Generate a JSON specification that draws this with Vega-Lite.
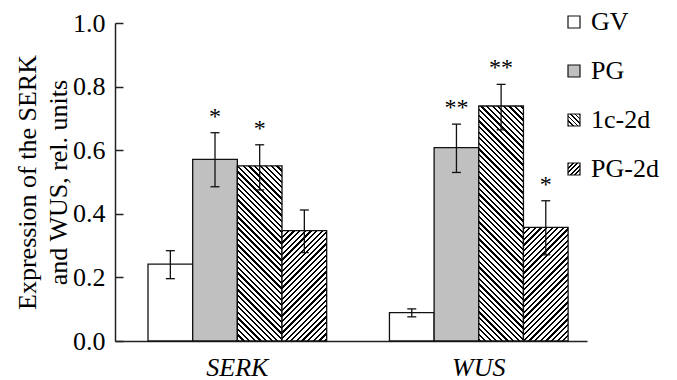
{
"$schema": "https://vega.github.io/schema/vega-lite/v6.json",
"width": 472, "height": 318,
"autosize": {"type": "none"},
"padding": {"left": 115, "top": 23, "right": 90, "bottom": 39},
"background": "white",
"config": {
 "view": {"stroke": null},
 "font": "Liberation Serif",
 "axis": {"labelFont": "Liberation Serif", "labelColor": "#000", "labelFontSize": 26, "domainColor": "#222", "domainWidth": 1.5, "tickColor": "#222", "tickWidth": 1.5, "grid": false, "titleFont": "Liberation Serif", "titleFontWeight": "normal", "titleColor": "#000", "titleFontSize": 26},
 "axisY": {"tickSize": -8, "labelPadding": 18, "titleAngle": -90, "titleX": -88, "titleY": 159, "titleAlign": "center", "titleBaseline": "middle", "titleLineHeight": 31},
 "axisX": {"ticks": false, "labelFontStyle": "italic", "labelPadding": 13, "labelAngle": 0}
},
"params": [{"name": "st", "value": [
{"offset":0,"color":"#000"},{"offset":0.008,"color":"#000"},{"offset":0.008,"color":"#fff"},{"offset":0.02,"color":"#fff"},
{"offset":0.02,"color":"#000"},{"offset":0.028,"color":"#000"},{"offset":0.028,"color":"#fff"},{"offset":0.04,"color":"#fff"},
{"offset":0.04,"color":"#000"},{"offset":0.048,"color":"#000"},{"offset":0.048,"color":"#fff"},{"offset":0.06,"color":"#fff"},
{"offset":0.06,"color":"#000"},{"offset":0.068,"color":"#000"},{"offset":0.068,"color":"#fff"},{"offset":0.08,"color":"#fff"},
{"offset":0.08,"color":"#000"},{"offset":0.088,"color":"#000"},{"offset":0.088,"color":"#fff"},{"offset":0.1,"color":"#fff"},
{"offset":0.1,"color":"#000"},{"offset":0.108,"color":"#000"},{"offset":0.108,"color":"#fff"},{"offset":0.12,"color":"#fff"},
{"offset":0.12,"color":"#000"},{"offset":0.128,"color":"#000"},{"offset":0.128,"color":"#fff"},{"offset":0.14,"color":"#fff"},
{"offset":0.14,"color":"#000"},{"offset":0.148,"color":"#000"},{"offset":0.148,"color":"#fff"},{"offset":0.16,"color":"#fff"},
{"offset":0.16,"color":"#000"},{"offset":0.168,"color":"#000"},{"offset":0.168,"color":"#fff"},{"offset":0.18,"color":"#fff"},
{"offset":0.18,"color":"#000"},{"offset":0.188,"color":"#000"},{"offset":0.188,"color":"#fff"},{"offset":0.2,"color":"#fff"},
{"offset":0.2,"color":"#000"},{"offset":0.208,"color":"#000"},{"offset":0.208,"color":"#fff"},{"offset":0.22,"color":"#fff"},
{"offset":0.22,"color":"#000"},{"offset":0.228,"color":"#000"},{"offset":0.228,"color":"#fff"},{"offset":0.24,"color":"#fff"},
{"offset":0.24,"color":"#000"},{"offset":0.248,"color":"#000"},{"offset":0.248,"color":"#fff"},{"offset":0.26,"color":"#fff"},
{"offset":0.26,"color":"#000"},{"offset":0.268,"color":"#000"},{"offset":0.268,"color":"#fff"},{"offset":0.28,"color":"#fff"},
{"offset":0.28,"color":"#000"},{"offset":0.288,"color":"#000"},{"offset":0.288,"color":"#fff"},{"offset":0.3,"color":"#fff"},
{"offset":0.3,"color":"#000"},{"offset":0.308,"color":"#000"},{"offset":0.308,"color":"#fff"},{"offset":0.32,"color":"#fff"},
{"offset":0.32,"color":"#000"},{"offset":0.328,"color":"#000"},{"offset":0.328,"color":"#fff"},{"offset":0.34,"color":"#fff"},
{"offset":0.34,"color":"#000"},{"offset":0.348,"color":"#000"},{"offset":0.348,"color":"#fff"},{"offset":0.36,"color":"#fff"},
{"offset":0.36,"color":"#000"},{"offset":0.368,"color":"#000"},{"offset":0.368,"color":"#fff"},{"offset":0.38,"color":"#fff"},
{"offset":0.38,"color":"#000"},{"offset":0.388,"color":"#000"},{"offset":0.388,"color":"#fff"},{"offset":0.4,"color":"#fff"},
{"offset":0.4,"color":"#000"},{"offset":0.408,"color":"#000"},{"offset":0.408,"color":"#fff"},{"offset":0.42,"color":"#fff"},
{"offset":0.42,"color":"#000"},{"offset":0.428,"color":"#000"},{"offset":0.428,"color":"#fff"},{"offset":0.44,"color":"#fff"},
{"offset":0.44,"color":"#000"},{"offset":0.448,"color":"#000"},{"offset":0.448,"color":"#fff"},{"offset":0.46,"color":"#fff"},
{"offset":0.46,"color":"#000"},{"offset":0.468,"color":"#000"},{"offset":0.468,"color":"#fff"},{"offset":0.48,"color":"#fff"},
{"offset":0.48,"color":"#000"},{"offset":0.488,"color":"#000"},{"offset":0.488,"color":"#fff"},{"offset":0.5,"color":"#fff"},
{"offset":0.5,"color":"#000"},{"offset":0.508,"color":"#000"},{"offset":0.508,"color":"#fff"},{"offset":0.52,"color":"#fff"},
{"offset":0.52,"color":"#000"},{"offset":0.528,"color":"#000"},{"offset":0.528,"color":"#fff"},{"offset":0.54,"color":"#fff"},
{"offset":0.54,"color":"#000"},{"offset":0.548,"color":"#000"},{"offset":0.548,"color":"#fff"},{"offset":0.56,"color":"#fff"},
{"offset":0.56,"color":"#000"},{"offset":0.568,"color":"#000"},{"offset":0.568,"color":"#fff"},{"offset":0.58,"color":"#fff"},
{"offset":0.58,"color":"#000"},{"offset":0.588,"color":"#000"},{"offset":0.588,"color":"#fff"},{"offset":0.6,"color":"#fff"},
{"offset":0.6,"color":"#000"},{"offset":0.608,"color":"#000"},{"offset":0.608,"color":"#fff"},{"offset":0.62,"color":"#fff"},
{"offset":0.62,"color":"#000"},{"offset":0.628,"color":"#000"},{"offset":0.628,"color":"#fff"},{"offset":0.64,"color":"#fff"},
{"offset":0.64,"color":"#000"},{"offset":0.648,"color":"#000"},{"offset":0.648,"color":"#fff"},{"offset":0.66,"color":"#fff"},
{"offset":0.66,"color":"#000"},{"offset":0.668,"color":"#000"},{"offset":0.668,"color":"#fff"},{"offset":0.68,"color":"#fff"},
{"offset":0.68,"color":"#000"},{"offset":0.688,"color":"#000"},{"offset":0.688,"color":"#fff"},{"offset":0.7,"color":"#fff"},
{"offset":0.7,"color":"#000"},{"offset":0.708,"color":"#000"},{"offset":0.708,"color":"#fff"},{"offset":0.72,"color":"#fff"},
{"offset":0.72,"color":"#000"},{"offset":0.728,"color":"#000"},{"offset":0.728,"color":"#fff"},{"offset":0.74,"color":"#fff"},
{"offset":0.74,"color":"#000"},{"offset":0.748,"color":"#000"},{"offset":0.748,"color":"#fff"},{"offset":0.76,"color":"#fff"},
{"offset":0.76,"color":"#000"},{"offset":0.768,"color":"#000"},{"offset":0.768,"color":"#fff"},{"offset":0.78,"color":"#fff"},
{"offset":0.78,"color":"#000"},{"offset":0.788,"color":"#000"},{"offset":0.788,"color":"#fff"},{"offset":0.8,"color":"#fff"},
{"offset":0.8,"color":"#000"},{"offset":0.808,"color":"#000"},{"offset":0.808,"color":"#fff"},{"offset":0.82,"color":"#fff"},
{"offset":0.82,"color":"#000"},{"offset":0.828,"color":"#000"},{"offset":0.828,"color":"#fff"},{"offset":0.84,"color":"#fff"},
{"offset":0.84,"color":"#000"},{"offset":0.848,"color":"#000"},{"offset":0.848,"color":"#fff"},{"offset":0.86,"color":"#fff"},
{"offset":0.86,"color":"#000"},{"offset":0.868,"color":"#000"},{"offset":0.868,"color":"#fff"},{"offset":0.88,"color":"#fff"},
{"offset":0.88,"color":"#000"},{"offset":0.888,"color":"#000"},{"offset":0.888,"color":"#fff"},{"offset":0.9,"color":"#fff"},
{"offset":0.9,"color":"#000"},{"offset":0.908,"color":"#000"},{"offset":0.908,"color":"#fff"},{"offset":0.92,"color":"#fff"},
{"offset":0.92,"color":"#000"},{"offset":0.928,"color":"#000"},{"offset":0.928,"color":"#fff"},{"offset":0.94,"color":"#fff"},
{"offset":0.94,"color":"#000"},{"offset":0.948,"color":"#000"},{"offset":0.948,"color":"#fff"},{"offset":0.96,"color":"#fff"},
{"offset":0.96,"color":"#000"},{"offset":0.968,"color":"#000"},{"offset":0.968,"color":"#fff"},{"offset":0.98,"color":"#fff"},
{"offset":0.98,"color":"#000"},{"offset":0.988,"color":"#000"},{"offset":0.988,"color":"#fff"},{"offset":1,"color":"#fff"}
]}],
"data": {"values": [
 {"gene": "SERK", "cond": "GV", "value": 0.242, "lo": 0.196, "hi": 0.284, "sig": ""},
 {"gene": "SERK", "cond": "PG", "value": 0.571, "lo": 0.485, "hi": 0.655, "sig": "*"},
 {"gene": "SERK", "cond": "1c-2d", "value": 0.551, "lo": 0.475, "hi": 0.617, "sig": "*"},
 {"gene": "SERK", "cond": "PG-2d", "value": 0.347, "lo": 0.278, "hi": 0.412, "sig": ""},
 {"gene": "WUS", "cond": "GV", "value": 0.089, "lo": 0.076, "hi": 0.101, "sig": ""},
 {"gene": "WUS", "cond": "PG", "value": 0.608, "lo": 0.530, "hi": 0.682, "sig": "**"},
 {"gene": "WUS", "cond": "1c-2d", "value": 0.739, "lo": 0.664, "hi": 0.807, "sig": "**"},
 {"gene": "WUS", "cond": "PG-2d", "value": 0.357, "lo": 0.271, "hi": 0.441, "sig": "*"}
]},
"encoding": {
 "x": {"field": "gene", "type": "nominal", "sort": ["SERK", "WUS"], "title": null,
       "scale": {"paddingInner": 0.26, "paddingOuter": 0.1075, "align": 0.636}},
 "xOffset": {"field": "cond", "type": "nominal",
       "scale": {"domain": ["GV", "PG", "1c-2d", "PG-2d"], "paddingInner": 0, "paddingOuter": 0}}
},
"layer": [
 {"mark": {"type": "bar", "stroke": "#111", "strokeWidth": 1.3},
  "encoding": {
   "y": {"field": "value", "type": "quantitative", "title": ["Expression of the SERK", "and WUS,  rel. units"],
         "scale": {"domain": [0, 1], "nice": false},
         "axis": {"values": [0, 0.2, 0.4, 0.6, 0.8, 1], "format": ".1f"}},
   "fill": {"field": "cond", "type": "nominal",
     "scale": {"domain": ["GV", "PG", "1c-2d", "PG-2d"],
               "range": ["#ffffff", "#c0c0c0",
                         {"expr": "{gradient:'linear',x1:0,y1:1,x2:9.375,y2:-8.375,stops:st}"},
                         {"expr": "{gradient:'linear',x1:0,y1:0,x2:9.375,y2:9.375,stops:st}"}]},
     "legend": {"orient": "none", "legendX": 446, "legendY": -14, "title": null,
       "symbolType": "square", "symbolSize": 144, "symbolStrokeColor": "#111", "symbolStrokeWidth": 1.2,
       "labelFont": "Liberation Serif", "labelFontSize": 26, "labelColor": "#000", "labelOffset": 4,
       "rowPadding": 23, "padding": 0, "symbolOpacity": 1},
     "condition": [
       {"test": "datum.gene === 'SERK' && datum.cond === '1c-2d'", "value": {"expr": "{gradient:'linear',x1:0,y1:1,x2:0.3839,y2:-0.506,stops:st}"}},
       {"test": "datum.gene === 'SERK' && datum.cond === 'PG-2d'", "value": {"expr": "{gradient:'linear',x1:0,y1:0,x2:0.8862,y2:2.1887,stops:st}"}},
       {"test": "datum.gene === 'WUS' && datum.cond === '1c-2d'", "value": {"expr": "{gradient:'linear',x1:0,y1:1,x2:0.2193,y2:-0.1541,stops:st}"}},
       {"test": "datum.gene === 'WUS' && datum.cond === 'PG-2d'", "value": {"expr": "{gradient:'linear',x1:0,y1:0,x2:0.8435,y2:2.1438,stops:st}"}}
     ]}
  }},
 {"mark": {"type": "rule", "stroke": "#111", "strokeWidth": 1.3},
  "encoding": {
   "y": {"field": "lo", "type": "quantitative", "title": ["Expression of the SERK", "and WUS,  rel. units"]},
   "y2": {"field": "hi"}
  }},
 {"mark": {"type": "tick", "color": "#111", "thickness": 1.3, "size": 9, "orient": "horizontal", "opacity": 1},
  "encoding": {"y": {"field": "lo", "type": "quantitative", "title": ["Expression of the SERK", "and WUS,  rel. units"]}}},
 {"mark": {"type": "tick", "color": "#111", "thickness": 1.3, "size": 9, "orient": "horizontal", "opacity": 1},
  "encoding": {"y": {"field": "hi", "type": "quantitative", "title": ["Expression of the SERK", "and WUS,  rel. units"]}}},
 {"transform": [{"filter": "datum.sig !== ''"}],
  "mark": {"type": "text", "font": "Liberation Serif", "fontSize": 24, "dy": -9, "baseline": "alphabetic", "fill": "#000"},
  "encoding": {
   "y": {"field": "hi", "type": "quantitative", "title": ["Expression of the SERK", "and WUS,  rel. units"]},
   "text": {"field": "sig"}
  }}
]
}
